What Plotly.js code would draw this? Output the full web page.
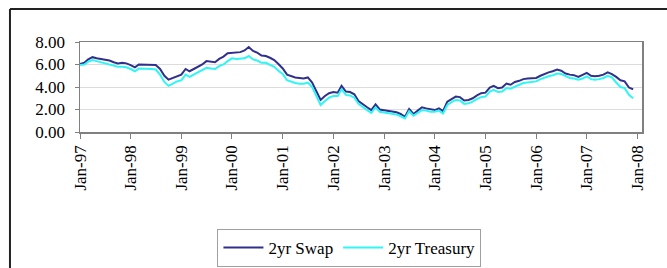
<!DOCTYPE html>
<html>
<head>
<meta charset="utf-8">
<script src="https://cdn.plot.ly/plotly-3.0.1.min.js"></script>
<style>html,body{margin:0;padding:0;background:#fff;}#chart{width:667px;height:268px;}</style>
</head>
<body>
<div id="chart"></div>
<script>
// Monthly observations, Jan-1997 .. Dec-2007
var startYear = 1997;
var swap2yr = [
  6.05, 6.15, 6.45, 6.65, 6.55, 6.50, 6.40, 6.35, 6.20, 6.10, 6.15, 6.10,
  5.95, 5.75, 6.00, 6.00, 6.00, 5.95, 5.95, 5.60, 5.00, 4.65, 4.80, 5.00,
  5.10, 5.60, 5.40, 5.60, 5.80, 6.00, 6.30, 6.25, 6.20, 6.50, 6.70, 7.00,
  7.05, 7.05, 7.10, 7.25, 7.55, 7.20, 7.05, 6.80, 6.75, 6.60, 6.40, 6.05,
  5.65, 5.10, 4.95, 4.85, 4.80, 4.75, 4.85, 4.40, 3.60, 2.85, 3.20, 3.45,
  3.55, 3.50, 4.10, 3.60, 3.55, 3.35, 2.75, 2.45, 2.20, 1.95, 2.45, 2.00,
  1.95, 1.85, 1.80, 1.75, 1.60, 1.35, 2.05, 1.60, 1.90, 2.20, 2.10, 2.00,
  1.95, 2.10, 1.85, 2.70, 2.95, 3.15, 3.10, 2.80, 2.85, 3.00, 3.25, 3.45,
  3.50, 3.95, 4.10, 3.90, 3.95, 4.30, 4.20, 4.45, 4.55, 4.70, 4.75, 4.75,
  4.80, 5.00, 5.15, 5.30, 5.40, 5.55, 5.45, 5.20, 5.10, 5.05, 4.90, 5.05,
  5.25, 5.00, 4.95, 5.00, 5.10, 5.30, 5.15, 4.90, 4.60, 4.50, 3.95, 3.80
];
var treasury2yr = [
  5.95, 6.00, 6.25, 6.40, 6.30, 6.20, 6.10, 6.05, 5.90, 5.80, 5.80, 5.75,
  5.60, 5.40, 5.65, 5.65, 5.65, 5.60, 5.55, 5.10, 4.45, 4.10, 4.30, 4.50,
  4.60, 5.10, 4.90, 5.10, 5.30, 5.45, 5.70, 5.65, 5.60, 5.85, 6.00, 6.30,
  6.55, 6.50, 6.50, 6.55, 6.75, 6.45, 6.35, 6.15, 6.15, 6.00, 5.80, 5.45,
  5.15, 4.60, 4.45, 4.35, 4.30, 4.30, 4.40, 4.00, 3.20, 2.40, 2.75, 3.05,
  3.20, 3.20, 3.80, 3.30, 3.25, 3.05, 2.50, 2.20, 1.95, 1.70, 2.20, 1.80,
  1.75, 1.65, 1.60, 1.55, 1.40, 1.20, 1.85, 1.45, 1.70, 1.95, 1.90, 1.80,
  1.80, 1.90, 1.65, 2.40, 2.65, 2.85, 2.80, 2.50, 2.55, 2.70, 2.95, 3.10,
  3.15, 3.60, 3.75, 3.55, 3.60, 3.90, 3.85, 4.05, 4.20, 4.35, 4.40, 4.40,
  4.50, 4.70, 4.85, 4.95, 5.05, 5.20, 5.15, 4.95, 4.80, 4.75, 4.65, 4.75,
  4.95, 4.70, 4.65, 4.70, 4.80, 5.00, 4.85, 4.40, 4.00, 3.90, 3.30, 3.00
];
var seriesNames = ["2yr Swap", "2yr Treasury"];
var yTicks = [0, 2, 4, 6, 8];
var yTickText = ["0.00", "2.00", "4.00", "6.00", "8.00"];

var dates = [];
for (var i = 0; i < swap2yr.length; i++) {
  var y = startYear + Math.floor(i / 12);
  var m = (i % 12) + 1;
  dates.push(y + "-" + (m < 10 ? "0" + m : m) + "-01");
}

var serif = "Liberation Serif, Times New Roman, serif";

var traces = [
  {x: dates, y: swap2yr, type: "scatter", mode: "lines", name: seriesNames[0],
   line: {color: "#30308c", width: 2}},
  {x: dates, y: treasury2yr, type: "scatter", mode: "lines", name: seriesNames[1],
   line: {color: "#2ff5f5", width: 2}}
];

var layout = {
  width: 667, height: 268,
  margin: {l: 80, r: 25, t: 42, b: 136, pad: 0},
  paper_bgcolor: "#ffffff", plot_bgcolor: "#ffffff",
  showlegend: true,
  font: {family: serif, size: 16, color: "#000"},
  xaxis: {
    type: "date",
    range: ["1997-01-01", "2008-02-03"],
    tick0: "1997-01-01", dtick: "M12", tickformat: "%b-%y",
    tickangle: -90,
    ticks: "outside", ticklen: 5, tickcolor: "#808080",
    showgrid: false, zeroline: false,
    showline: true, linecolor: "#808080", linewidth: 1.5, mirror: true,
    tickfont: {family: serif, size: 17, color: "#000"}
  },
  yaxis: {
    range: [0, 8],
    tickvals: yTicks, ticktext: yTickText,
    ticks: "outside", ticklen: 4, tickcolor: "#808080",
    showgrid: true, gridcolor: "#dcdcdc", gridwidth: 1,
    zeroline: false,
    showline: true, linecolor: "#808080", linewidth: 1.5, mirror: true,
    ticklabelstandoff: 6,
    tickfont: {family: serif, size: 17, color: "#000"}
  },
  legend: {
    orientation: "h",
    xref: "container", yref: "container",
    x: 0.326, y: 0.146, xanchor: "left", yanchor: "top",
    bordercolor: "#a0a0a0", borderwidth: 1, bgcolor: "#ffffff",
    font: {family: serif, size: 17, color: "#000"},
    itemwidth: 40, tracegroupgap: 0
  },
  shapes: [
    {type: "line", xref: "paper", yref: "paper", x0: -0.1246, x1: 1.1, y0: 1.3667, y1: 1.3667,
     line: {color: "#222", width: 2}},
    {type: "line", xref: "paper", yref: "paper", x0: -0.1246, x1: -0.1246, y0: 1.3667, y1: -1.7,
     line: {color: "#222", width: 2}}
  ]
};

Plotly.newPlot("chart", traces, layout, {displayModeBar: false, staticPlot: true});
</script>
</body>
</html>
